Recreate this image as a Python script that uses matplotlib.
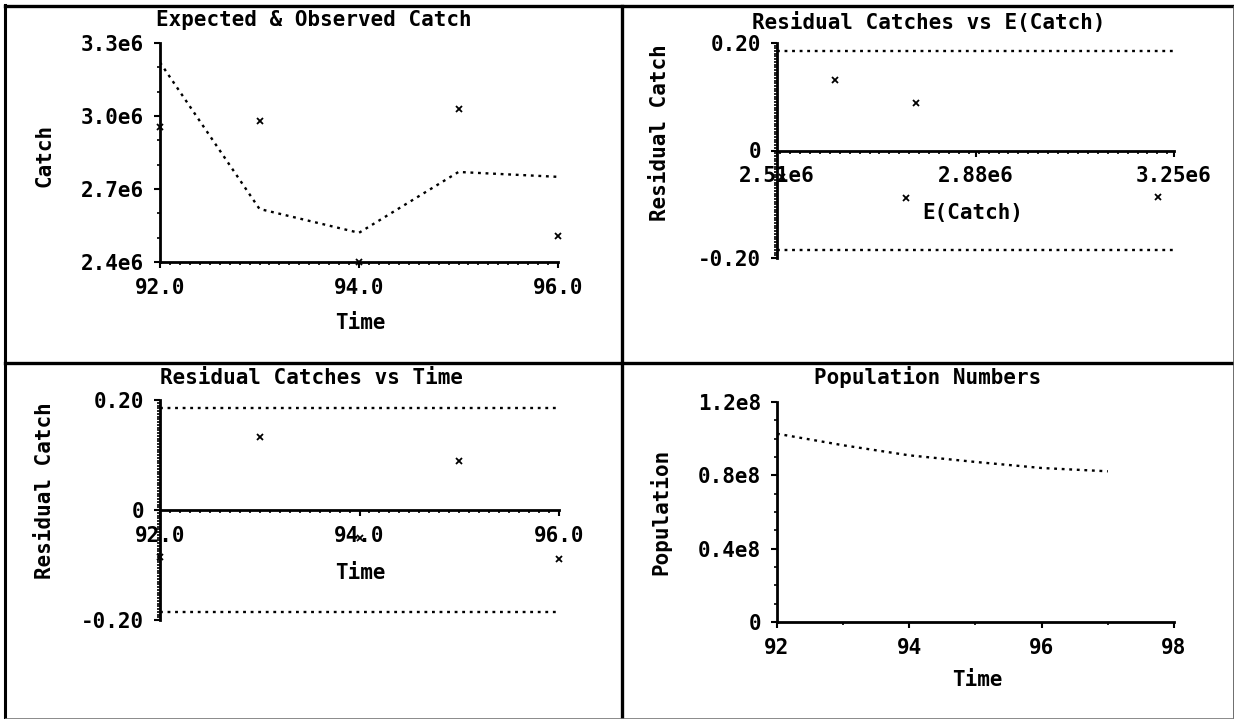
import matplotlib

matplotlib.use("Agg")
import matplotlib.pyplot as plt
from matplotlib.lines import Line2D
from matplotlib.ticker import FixedLocator, MultipleLocator

W, H = 1234, 719

years = [92, 93, 94, 95, 96]
expected_catch = [3.22e6, 2.618e6, 2.52e6, 2.77e6, 2.75e6]
observed_catch = [2.955e6, 2.98e6, 2.40e6, 3.03e6, 2.507e6]
residuals = [-0.086, 0.132, -0.05, 0.089, -0.089]
residual_band = 0.185

pop_years = [92, 93, 94, 95, 96, 97]
population = [1.027e8, 0.964e8, 0.909e8, 0.873e8, 0.84e8, 0.822e8]

catch_ticks = [2.4e6, 2.7e6, 3.0e6, 3.3e6]
catch_tick_labels = ["2.4e6", "2.7e6", "3.0e6", "3.3e6"]
time_ticks = [92, 94, 96]
time_tick_labels = ["92.0", "94.0", "96.0"]
resid_ticks = [-0.2, 0, 0.2]
resid_tick_labels = ["-0.20", "0", "0.20"]
ecatch_ticks = [2.51e6, 2.88e6, 3.25e6]
ecatch_tick_labels = ["2.51e6", "2.88e6", "3.25e6"]
pop_ticks = [0, 0.4e8, 0.8e8, 1.2e8]
pop_tick_labels = ["0", "0.4e8", "0.8e8", "1.2e8"]
pop_time_ticks = [92, 94, 96, 98]
pop_time_tick_labels = ["92", "94", "96", "98"]

FONT = 15
DOTTED = dict(color="black", linestyle=(0, (1.2, 2.0)), linewidth=1.7,
              dash_capstyle="butt")
CROSS = dict(linestyle="none", marker="x", color="black", markersize=4.5,
             markeredgewidth=1.3, clip_on=False)


def px_axes(fig, left, top, right, bottom):
    ax = fig.add_axes([left / W, 1 - bottom / H, (right - left) / W, (bottom - top) / H])
    ax.patch.set_alpha(0)
    for side in ("top", "right"):
        ax.spines[side].set_visible(False)
    for side in ("left", "bottom"):
        ax.spines[side].set_linewidth(2.0)
    ax.tick_params(which="major", direction="out", length=4.5, width=1.5,
                   labelsize=FONT, pad=7)
    ax.tick_params(which="minor", direction="out", length=2.5, width=1.2)
    return ax


def fig_text(fig, x, y, s, **kw):
    fig.text(x / W, 1 - y / H, s, fontsize=FONT, fontweight="bold", **kw)


def set_ticks(ax, xt, xl, yt, yl):
    ax.xaxis.set_major_locator(FixedLocator(xt))
    ax.set_xticklabels(xl)
    ax.yaxis.set_major_locator(FixedLocator(yt))
    ax.set_yticklabels(yl)
    for lab in ax.get_xticklabels() + ax.get_yticklabels():
        lab.set_fontweight("bold")


def draw_frame(fig):
    lines = [
        ([5, 5], [5, 719], 2.2, "black"),
        ([5, 1234], [6, 6], 2.4, "black"),
        ([622, 622], [6, 719], 2.4, "black"),
        ([5, 1234], [363, 363], 2.4, "black"),
        ([1233, 1233], [6, 719], 0.6, "#555555"),
        ([5, 1234], [718, 718], 0.6, "#777777"),
    ]
    for xs, ys, lw, color in lines:
        fig.add_artist(Line2D([x / W for x in xs], [1 - y / H for y in ys],
                              transform=fig.transFigure, color=color,
                              linewidth=lw))


def main() -> None:
    plt.rcParams["font.family"] = ["DejaVu Sans Mono", "DejaVu Sans"]
    fig = plt.figure(figsize=(W / 100, H / 100), dpi=100)
    fig.patch.set_facecolor("white")

    # top left: expected & observed catch
    ax = px_axes(fig, 160, 43, 558, 262)
    ax.plot(years, expected_catch, **DOTTED)
    ax.plot(years, observed_catch, **CROSS)
    ax.set_xlim(92, 96)
    ax.set_ylim(2.4e6, 3.3e6)
    set_ticks(ax, time_ticks, time_tick_labels, catch_ticks, catch_tick_labels)
    ax.xaxis.set_minor_locator(MultipleLocator(0.1))
    ax.yaxis.set_minor_locator(MultipleLocator(0.1e6))
    fig_text(fig, 314, 20, "Expected & Observed Catch", ha="center", va="center")
    fig_text(fig, 360, 323, "Time", ha="center", va="center")
    fig_text(fig, 45, 155, "Catch", ha="center", va="center", rotation=90)

    # top right: residuals vs expected catch
    ax = px_axes(fig, 777, 43, 1174, 258)
    ax.spines["bottom"].set_position(("data", 0))
    ax.plot([2.51e6, 3.25e6], [residual_band, residual_band], **DOTTED)
    ax.plot([2.51e6, 3.25e6], [-residual_band, -residual_band], **DOTTED)
    ax.plot(expected_catch, residuals, **CROSS)
    ax.set_xlim(2.51e6, 3.25e6)
    ax.set_ylim(-0.2, 0.2)
    set_ticks(ax, ecatch_ticks, ecatch_tick_labels, resid_ticks, resid_tick_labels)
    ax.xaxis.set_minor_locator(MultipleLocator(0.0185e6))
    ax.yaxis.set_minor_locator(MultipleLocator(0.005))
    fig_text(fig, 929, 22, "Residual Catches vs E(Catch)", ha="center", va="center")
    fig_text(fig, 973, 213, "E(Catch)", ha="center", va="center")
    fig_text(fig, 660, 221, "Residual Catch", ha="center", va="bottom", rotation=90)

    # bottom left: residuals vs time
    ax = px_axes(fig, 160, 400, 559, 620)
    ax.spines["bottom"].set_position(("data", 0))
    ax.plot([92, 96], [residual_band, residual_band], **DOTTED)
    ax.plot([92, 96], [-residual_band, -residual_band], **DOTTED)
    ax.plot(years, residuals, **CROSS)
    ax.set_xlim(92, 96)
    ax.set_ylim(-0.2, 0.2)
    set_ticks(ax, time_ticks, time_tick_labels, resid_ticks, resid_tick_labels)
    ax.xaxis.set_minor_locator(MultipleLocator(0.1))
    ax.yaxis.set_minor_locator(MultipleLocator(0.005))
    fig_text(fig, 312, 378, "Residual Catches vs Time", ha="center", va="center")
    fig_text(fig, 360, 573, "Time", ha="center", va="center")
    fig_text(fig, 45, 579, "Residual Catch", ha="center", va="bottom", rotation=90)

    # bottom right: population numbers
    ax = px_axes(fig, 777, 402, 1174, 622)
    ax.plot(pop_years, population, **DOTTED)
    ax.set_xlim(92, 98)
    ax.set_ylim(0, 1.2e8)
    set_ticks(ax, pop_time_ticks, pop_time_tick_labels, pop_ticks, pop_tick_labels)
    ax.xaxis.set_minor_locator(MultipleLocator(1))
    ax.yaxis.set_minor_locator(MultipleLocator(0.1e8))
    fig_text(fig, 928, 377, "Population Numbers", ha="center", va="center")
    fig_text(fig, 977, 680, "Time", ha="center", va="center")
    fig_text(fig, 660, 512, "Population", ha="center", va="center", rotation=90)

    draw_frame(fig)
    fig.savefig("out.png", dpi=100, facecolor="white")
    plt.close(fig)


if __name__ == "__main__":
    main()
